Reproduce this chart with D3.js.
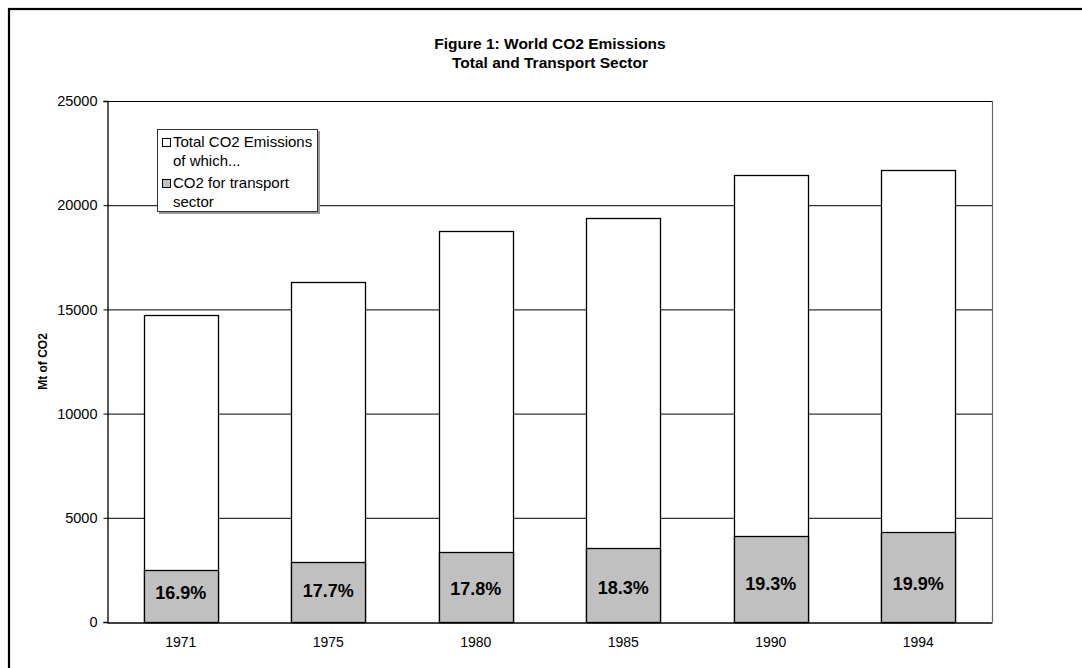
<!DOCTYPE html>
<html>
<head>
<meta charset="utf-8">
<script src="https://cdn.jsdelivr.net/npm/d3@7/dist/d3.min.js"></script>
<style>
  html, body { margin: 0; padding: 0; background: #fff; }
  svg { display: block; }
  text { font-family: Arial, "Liberation Sans", sans-serif; fill: #000; }
</style>
</head>
<body>
<svg id="chart" width="1082" height="668"></svg>
<script>
// World CO2 emissions (Mt), total and transport sector
const years = ["1971", "1975", "1980", "1985", "1990", "1994"];
const totalCO2 = [14730, 16300, 18780, 19390, 21440, 21690];
const transportCO2 = [2490, 2885, 3343, 3548, 4138, 4316];
const transportShare = ["16.9%", "17.7%", "17.8%", "18.3%", "19.3%", "19.9%"];
const yTicks = [0, 5000, 10000, 15000, 20000, 25000];

const svg = d3.select("#chart");
const plot = { left: 107, right: 992, top: 101, bottom: 622 };

// outer frame (runs off the right and bottom of the page)
svg.append("rect")
  .attr("x", 9).attr("y", 9)
  .attr("width", 1200).attr("height", 800)
  .attr("fill", "none").attr("stroke", "#000").attr("stroke-width", 2.2);

const x = d3.scaleBand()
  .domain(years)
  .range([plot.left, plot.right])
  .paddingInner(0.5)
  .paddingOuter(0.25);

const y = d3.scaleLinear()
  .domain([0, 25000])
  .range([plot.bottom, plot.top]);

// title
const title = svg.append("text")
  .attr("text-anchor", "middle")
  .attr("font-weight", "bold")
  .attr("font-size", "15.5px");
title.append("tspan").attr("x", 550).attr("y", 49).text("Figure 1: World CO2 Emissions");
title.append("tspan").attr("x", 550).attr("y", 68).text("Total and Transport Sector");

// gridlines
svg.append("g")
  .selectAll("line")
  .data(yTicks.filter(d => d > 0))
  .join("line")
  .attr("x1", plot.left).attr("x2", plot.right)
  .attr("y1", d => y(d) + 0.5).attr("y2", d => y(d) + 0.5)
  .attr("stroke", "#000").attr("stroke-width", 1);

// right edge of the plot area
svg.append("line")
  .attr("x1", plot.right + 0.5).attr("x2", plot.right + 0.5)
  .attr("y1", plot.top).attr("y2", plot.bottom)
  .attr("stroke", "#666").attr("stroke-width", 1.2);

// total emission bars
const bars = svg.append("g");
bars.selectAll("rect.total")
  .data(years)
  .join("rect")
  .attr("class", "total")
  .attr("x", d => Math.round(x(d)) + 0.5)
  .attr("width", Math.round(x.bandwidth()))
  .attr("y", (d, i) => Math.round(y(totalCO2[i])) + 0.5)
  .attr("height", (d, i) => Math.round(y(0)) - Math.round(y(totalCO2[i])))
  .attr("fill", "#fff")
  .attr("stroke", "#000").attr("stroke-width", 1.3);

// transport sector bars
bars.selectAll("rect.transport")
  .data(years)
  .join("rect")
  .attr("class", "transport")
  .attr("x", d => Math.round(x(d)) + 0.5)
  .attr("width", Math.round(x.bandwidth()))
  .attr("y", (d, i) => Math.round(y(transportCO2[i])) + 0.5)
  .attr("height", (d, i) => Math.round(y(0)) - Math.round(y(transportCO2[i])))
  .attr("fill", "#c0c0c0")
  .attr("stroke", "#000").attr("stroke-width", 1.3);

// share labels inside the transport bars
bars.selectAll("text.share")
  .data(years)
  .join("text")
  .attr("class", "share")
  .attr("x", d => x(d) + x.bandwidth() / 2)
  .attr("y", (d, i) => {
    const mid = (y(transportCO2[i]) + y(0)) / 2;
    return (mid + 590) / 2 + 6;
  })
  .attr("text-anchor", "middle")
  .attr("font-weight", "bold")
  .attr("font-size", "18px")
  .text((d, i) => transportShare[i]);

// y axis
const yAxis = d3.axisLeft(y)
  .tickValues(yTicks)
  .tickSize(4)
  .tickPadding(6)
  .tickFormat(d3.format("d"));
const gy = svg.append("g")
  .attr("transform", `translate(${plot.left + 0.5},0)`)
  .call(yAxis);
gy.select(".domain").attr("stroke", "#000").attr("stroke-width", 1.3);
gy.selectAll(".tick line").attr("stroke", "#000");
gy.selectAll(".tick text")
  .attr("font-size", "14.5px")
  .attr("font-family", "Arial, 'Liberation Sans', sans-serif")
  .attr("fill", "#000");

// x axis
const xAxis = d3.axisBottom(x).tickSize(0).tickPadding(15);
const gx = svg.append("g")
  .attr("transform", `translate(0,${plot.bottom + 0.5})`)
  .call(xAxis);
gx.select(".domain").attr("stroke", "#000").attr("stroke-width", 1.3);
gx.selectAll(".tick text")
  .attr("font-size", "14px")
  .attr("font-family", "Arial, 'Liberation Sans', sans-serif")
  .attr("fill", "#000");

// y axis title
svg.append("text")
  .attr("transform", `translate(47,${(plot.top + plot.bottom) / 2}) rotate(-90)`)
  .attr("text-anchor", "middle")
  .attr("font-weight", "bold")
  .attr("font-size", "12px")
  .text("Mt of CO2");

// legend
const legend = svg.append("g");
legend.append("rect")
  .attr("x", 159).attr("y", 131).attr("width", 161).attr("height", 83)
  .attr("fill", "#999");
legend.append("rect")
  .attr("x", 157.5).attr("y", 129.5).attr("width", 160).attr("height", 82)
  .attr("fill", "#fff").attr("stroke", "#333").attr("stroke-width", 1);

const legendItems = [
  { lines: ["Total CO2 Emissions", "of which..."], fill: "#fff", top: 138 },
  { lines: ["CO2 for transport", "sector"], fill: "#c0c0c0", top: 179 }
];
legendItems.forEach(item => {
  legend.append("rect")
    .attr("x", 162.5).attr("y", item.top + 0.5)
    .attr("width", 8).attr("height", 8)
    .attr("fill", item.fill).attr("stroke", "#000").attr("stroke-width", 1);
  const t = legend.append("text").attr("font-size", "15px");
  item.lines.forEach((line, j) => {
    t.append("tspan")
      .attr("x", 173)
      .attr("y", item.top + 9 + j * 19)
      .text(line);
  });
});
</script>
</body>
</html>
